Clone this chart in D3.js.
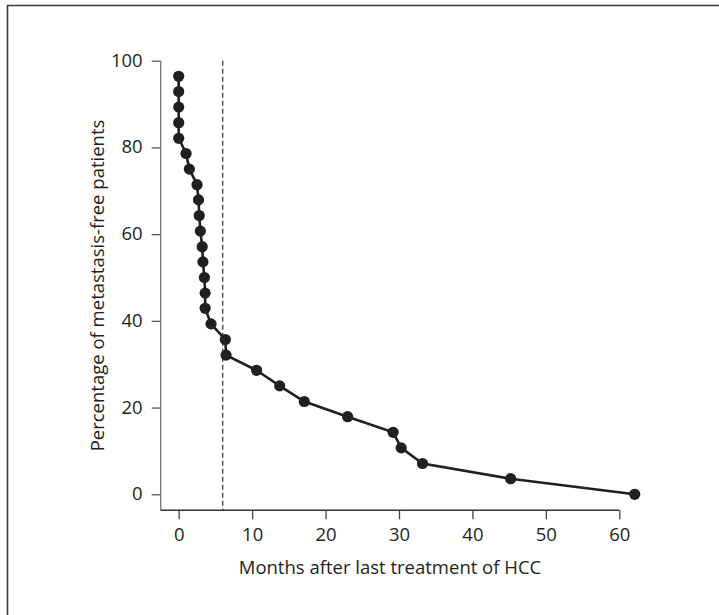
<!DOCTYPE html>
<html>
<head>
<meta charset="utf-8">
<script src="https://cdn.jsdelivr.net/npm/d3@7"></script>
<style>
  body { margin: 0; background: #fff; }
  svg { display: block; }
  text { font-family: "Open Sans", "Noto Sans", sans-serif; fill: #231f20; }
</style>
</head>
<body>
<svg width="719" height="615"></svg>
<script>
// months after last treatment, one entry per patient event
const months = [0, 0, 0, 0, 0, 1.0, 1.45, 2.5, 2.7, 2.8, 2.95, 3.2, 3.3, 3.5, 3.6, 3.6, 4.4,
  6.35, 6.45, 10.6, 13.75, 17.1, 23.0, 29.2, 30.3, 33.2, 45.2, 62.1];
// percentage still metastasis-free
const percent = [96.4, 92.9, 89.3, 85.7, 82.1, 78.6, 75.0, 71.4, 67.9, 64.3, 60.7, 57.1, 53.6, 50.0,
  46.4, 42.9, 39.3, 35.7, 32.1, 28.6, 25.0, 21.4, 17.9, 14.3, 10.7, 7.1, 3.6, 0];
const xTicks = [0, 10, 20, 30, 40, 50, 60];
const yTicks = [0, 20, 40, 60, 80, 100];
const cutoff = 6; // dashed reference line

const svg = d3.select('svg');
const ink = '#231f20';

// frame (only top and left edges are visible)
svg.append('line').attr('x1', 7).attr('x2', 719).attr('y1', 5.5).attr('y2', 5.5)
  .attr('stroke', '#3a3a3a').attr('stroke-width', 1.6);
svg.append('line').attr('x1', 7.5).attr('x2', 7.5).attr('y1', 5).attr('y2', 615)
  .attr('stroke', '#3a3a3a').attr('stroke-width', 1.6);

const x = d3.scaleLinear().domain([0, 60]).range([178.7, 619.3]);
const y = d3.scaleLinear().domain([0, 100]).range([494.3, 60.7]);
const axisLeftX = 160.7, axisBottomY = 510.3;

// y axis
const gy = svg.append('g').attr('transform', `translate(${axisLeftX},0)`)
  .call(d3.axisLeft(y).tickValues(yTicks).tickSize(9).tickSizeOuter(0).tickPadding(9));
gy.select('.domain').remove();
gy.selectAll('.tick line').attr('stroke', '#555').attr('stroke-width', 1.3);
gy.selectAll('.tick text').attr('font-size', 18.5).attr('font-family', null).attr('fill', ink)
  .attr('dy', '0.3em');
svg.append('line').attr('x1', axisLeftX).attr('x2', axisLeftX)
  .attr('y1', y(100)).attr('y2', axisBottomY)
  .attr('stroke', '#7a7a7a').attr('stroke-width', 1.4);

// x axis
const gx = svg.append('g').attr('transform', `translate(0,${axisBottomY})`)
  .call(d3.axisBottom(x).tickValues(xTicks).tickSize(9).tickSizeOuter(0).tickPadding(9));
gx.select('.domain').remove();
gx.selectAll('.tick line').attr('stroke', '#444').attr('stroke-width', 1.3);
gx.selectAll('.tick text').attr('font-size', 18.5).attr('font-family', null).attr('fill', ink);
svg.append('line').attr('x1', axisLeftX).attr('x2', x(60))
  .attr('y1', axisBottomY).attr('y2', axisBottomY)
  .attr('stroke', '#333').attr('stroke-width', 1.4);

// dashed line at 6 months
svg.append('line').attr('x1', x(cutoff)).attr('x2', x(cutoff))
  .attr('y1', y(100)).attr('y2', axisBottomY)
  .attr('stroke', ink).attr('stroke-width', 1.1).attr('stroke-dasharray', '5,3');

// curve + dots
const pts = months.map((m, i) => [m, percent[i]]);
svg.append('path').datum(pts)
  .attr('d', d3.line().x(d => x(d[0])).y(d => y(d[1])))
  .attr('fill', 'none').attr('stroke', ink).attr('stroke-width', 2.6);
svg.selectAll('circle.pt').data(pts).join('circle').attr('class', 'pt')
  .attr('cx', d => x(d[0])).attr('cy', d => y(d[1])).attr('r', 5.6).attr('fill', ink);

// axis titles
svg.append('text').attr('x', (axisLeftX + x(60)) / 2).attr('y', 574)
  .attr('text-anchor', 'middle').attr('font-size', 18.5)
  .text('Months after last treatment of HCC');
svg.append('text').attr('transform', `translate(104,${(y(100) + axisBottomY) / 2}) rotate(-90)`)
  .attr('text-anchor', 'middle').attr('font-size', 18.5)
  .text('Percentage of metastasis-free patients');
</script>
</body>
</html>
